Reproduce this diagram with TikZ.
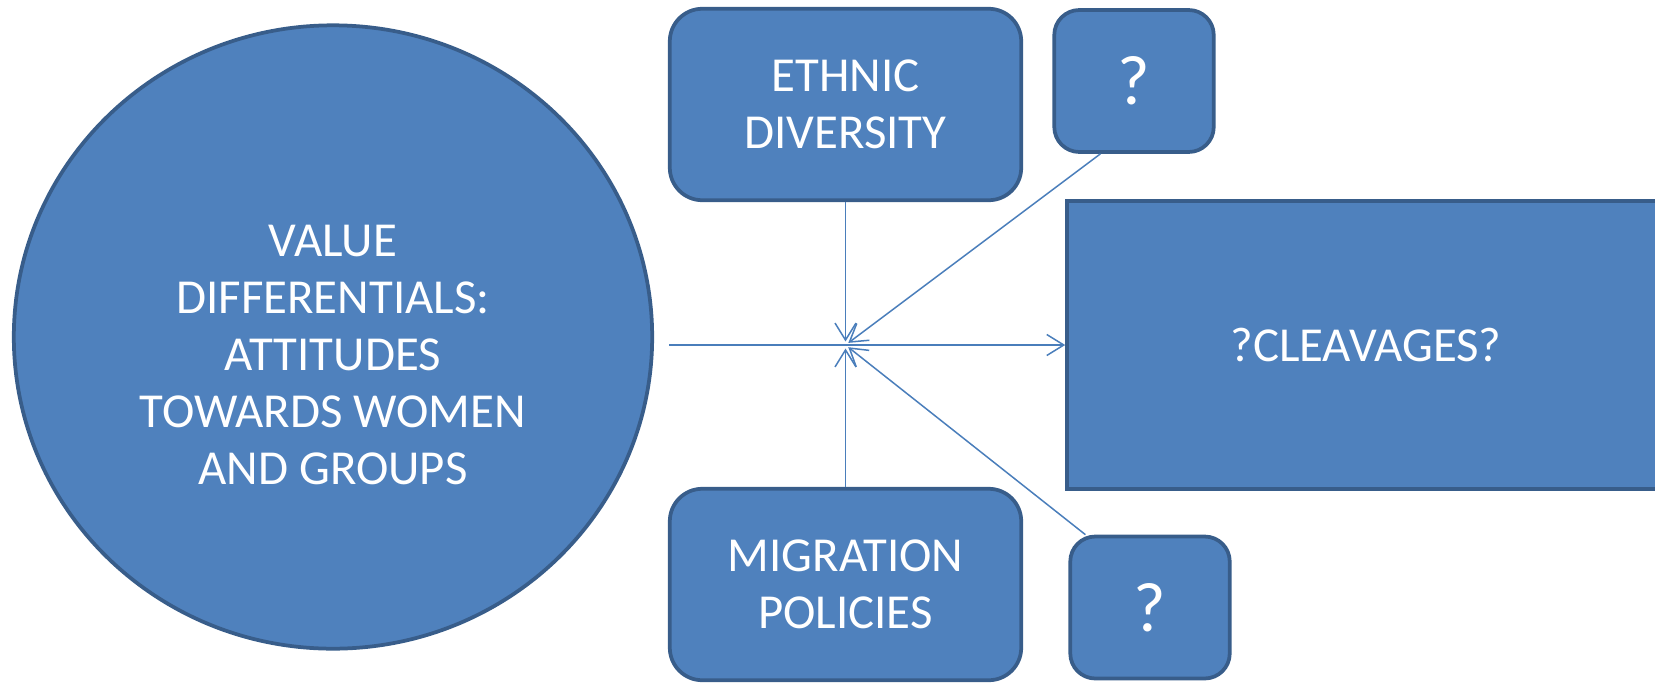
\documentclass[tikz,border=0pt]{standalone}
\usepackage{fontspec}
\setmainfont{Carlito}
\usetikzlibrary{arrows.meta,positioning,shapes.geometric}
\definecolor{boxfill}{HTML}{4F81BD}
\definecolor{boxline}{HTML}{385D8A}
\definecolor{flowline}{HTML}{4A7EBB}

\begin{document}
\begin{tikzpicture}
    [x=0.02cm, y=-0.02cm,
    label text/.style={text=white,align=center,font=\fontsize{27.8}{32.4}\selectfont},
    shape base/.style={label text,fill=boxfill,draw=boxline,line width=0.075cm,inner sep=0pt},
    factor/.style={shape base,rectangle,rounded corners=0.65cm,minimum width=7.03cm,minimum height=3.83cm},
    query/.style={shape base,rectangle,rounded corners=0.5cm,minimum width=3.19cm,minimum height=2.84cm,
        font=\fontsize{40}{48}\selectfont},
    flow/.style={-{Straight Barb[length=0.34cm,width=0.42cm]},draw=flowline,line width=0.03cm},
    into hub/.style={flow,shorten >=2pt}]
    \clip (0,0) rectangle (1655,683);
    \node[shape base,ellipse,minimum width=12.77cm,minimum height=12.47cm] (values) at (333,337) {};
    \node[label text] (values text) at (333,355) {VALUE\\DIFFERENTIALS:\\ATTITUDES\\TOWARDS WOMEN\\AND GROUPS};
    \node[factor] (ethnic) at (845.5,104.5) {ETHNIC\\DIVERSITY};
    \node[factor] (migration) at (845.5,584.5) {MIGRATION\\POLICIES};
    \node[query] (query top) at (1134,81) {?};
    \node[query] (query bottom) at (1150,607.5) {?};
    \node[shape base,rectangle,minimum width=11.96cm,minimum height=5.77cm] (cleavages) at (1366,345) {?CLEAVAGES?};
    \coordinate (hub) at (845.5,345);
    % arrows meeting in the middle
    \draw[flow] ([xshift=0.3cm]values.east |- hub) -- (cleavages.west);
    \draw[into hub] (ethnic.south) -- (hub);
    \draw[into hub] (migration.north) -- (hub);
    \draw[into hub] ([xshift=0.96cm]query top.south west) -- (hub);
    \draw[into hub] ([xshift=0.34cm]query bottom.north west) -- (hub);
\end{tikzpicture}
\end{document}
